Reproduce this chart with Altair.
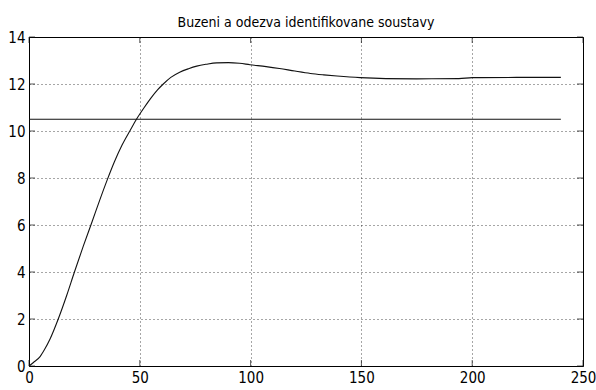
import altair as alt
import pandas as pd

# Identified system: step excitation and simulated response
t_resp = [0, 2, 5, 7, 9.5, 13.2, 17, 20.5, 24.5, 28.5, 32, 35.3, 38.5, 42, 45.5, 48.5,
          52, 55, 58, 60.6, 64, 68, 72, 75.7, 80, 84.7, 90, 95, 99.7, 107, 113, 120,
          127, 133, 139, 149.4, 161, 175, 194, 200, 220, 240]
y_resp = [0, 0.15, 0.4, 0.7, 1.15, 2.0, 3.0, 4.0, 5.1, 6.15, 7.08, 7.92, 8.68, 9.4, 10.0, 10.5,
          11.0, 11.4, 11.75, 12.0, 12.28, 12.5, 12.65, 12.76, 12.84, 12.9, 12.91, 12.88, 12.82, 12.74, 12.66, 12.55,
          12.45, 12.39, 12.34, 12.27, 12.23, 12.22, 12.23, 12.27, 12.28, 12.28]

t_exc = [0, 240]
u_exc = [10.5, 10.5]

x_ticks = [0, 50, 100, 150, 200, 250]
y_ticks = [0, 2, 4, 6, 8, 10, 12, 14]

FONT = "Liberation Sans Narrow, DejaVu Sans Condensed, Arial Narrow, sans-serif"
INK = "#111111"

resp = pd.DataFrame({"t": t_resp, "y": y_resp})
exc = pd.DataFrame({"t": t_exc, "y": u_exc})
xt = pd.DataFrame({"v": x_ticks})
yt = pd.DataFrame({"v": y_ticks})

xs = alt.Scale(domain=[0, 250], nice=False, zero=False)
ys = alt.Scale(domain=[0, 14], nice=False, zero=False)

common_axis = dict(
    grid=True, gridDash=[1, 3], gridColor="#000000", gridOpacity=0.7, gridWidth=1,
    ticks=False, domain=False, labelFont=FONT, labelFontSize=15, labelColor="#000000",
    title=None, labelFlush=False, labelOverlap=False, labelPadding=4,
)
x_axis = alt.Axis(values=x_ticks, **common_axis)
y_axis = alt.Axis(values=y_ticks, **common_axis)

response = alt.Chart(resp).mark_line(
    color=INK, strokeWidth=1.1, interpolate="monotone"
).encode(
    x=alt.X("t:Q", scale=xs, axis=x_axis),
    y=alt.Y("y:Q", scale=ys, axis=y_axis),
)

excitation = alt.Chart(exc).mark_line(color=INK, strokeWidth=1.1).encode(
    x=alt.X("t:Q", scale=xs, axis=x_axis),
    y=alt.Y("y:Q", scale=ys, axis=y_axis),
)

# Inward tick marks on all four sides of the frame
tick_style = dict(color=INK, thickness=1, size=6)
bottom_ticks = alt.Chart(xt).mark_tick(orient="vertical", yOffset=-3, **tick_style).encode(
    x=alt.X("v:Q", scale=xs, axis=x_axis), y=alt.Y(datum=0, scale=ys, axis=y_axis)
)
top_ticks = alt.Chart(xt).mark_tick(orient="vertical", yOffset=3, **tick_style).encode(
    x=alt.X("v:Q", scale=xs, axis=x_axis), y=alt.Y(datum=14, scale=ys, axis=y_axis)
)
left_ticks = alt.Chart(yt).mark_tick(orient="horizontal", xOffset=3, **tick_style).encode(
    y=alt.Y("v:Q", scale=ys, axis=y_axis), x=alt.X(datum=0, scale=xs, axis=x_axis)
)
right_ticks = alt.Chart(yt).mark_tick(orient="horizontal", xOffset=-3, **tick_style).encode(
    y=alt.Y("v:Q", scale=ys, axis=y_axis), x=alt.X(datum=250, scale=xs, axis=x_axis)
)

chart = alt.layer(
    response, excitation, bottom_ticks, top_ticks, left_ticks, right_ticks
).properties(
    width=554,
    height=329,
    title=alt.TitleParams(
        "Buzeni a odezva identifikovane soustavy",
        font=FONT, fontSize=14, fontWeight="normal", color="#000000",
        anchor="middle", offset=4, dy=4,
    ),
    padding={"left": 29, "top": 37, "right": 13, "bottom": 24},
    autosize=alt.AutoSizeParams(type="none"),
    background="#ffffff",
).configure_view(
    stroke="#000000", strokeWidth=1
)

chart.save("out.html", embed_options={"renderer": "svg", "actions": False})
